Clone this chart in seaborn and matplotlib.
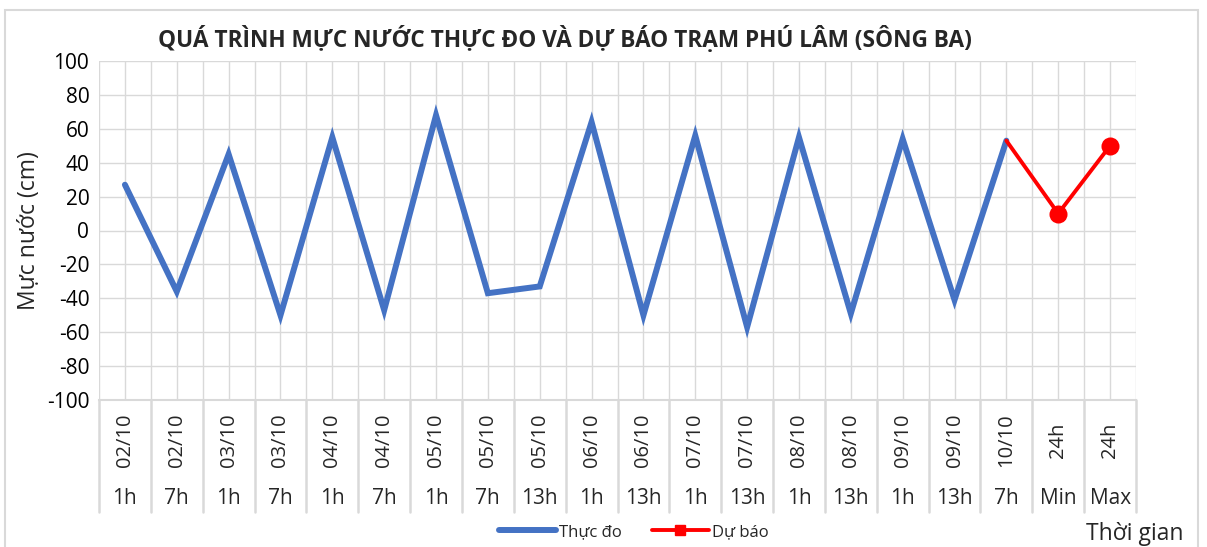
import numpy as np
import pandas as pd
import matplotlib.pyplot as plt
import matplotlib.transforms as mtransforms
from matplotlib.lines import Line2D
from matplotlib.patches import Rectangle
import seaborn as sns

# dữ liệu
dates = ["02/10", "02/10", "03/10", "03/10", "04/10", "04/10", "05/10", "05/10", "05/10",
         "06/10", "06/10", "07/10", "07/10", "08/10", "08/10", "09/10", "09/10", "10/10",
         "24h", "24h"]
hours = ["1h", "7h", "1h", "7h", "1h", "7h", "1h", "7h", "13h",
         "1h", "13h", "1h", "13h", "1h", "13h", "1h", "13h", "7h",
         "Min", "Max"]
thuc_do = [27, -36, 45, -50, 55, -47, 68, -37, -33,
           64, -50, 56, -57, 55, -49, 54, -41, 53]
du_bao = [53, 10, 50]

blue = "#4472C4"
red = "#FF0000"
grid_c = "#D9D9D9"

sns.set_theme(style="white")
plt.rcParams['font.family'] = ['Open Sans', 'DejaVu Sans']
plt.rcParams['axes.unicode_minus'] = False

n = len(dates)
df_obs = pd.DataFrame({"x": np.arange(len(thuc_do)), "y": thuc_do})
df_fc = pd.DataFrame({"x": np.arange(len(thuc_do) - 1, n), "y": du_bao})

fig = plt.figure(figsize=(12.07, 5.47), dpi=100)
ax = fig.add_axes([99 / 1207, 1 - 400 / 547, 1037 / 1207, 339 / 547])

# khung viền biểu đồ
fig.patches.append(Rectangle((5 / 1207, -0.01), 1193 / 1207, 1 - 10 / 547 + 0.01,
                             transform=fig.transFigure, fill=False,
                             edgecolor=grid_c, linewidth=1.5))

sns.lineplot(data=df_obs, x="x", y="y", ax=ax, color=blue, linewidth=4.3,
             solid_capstyle="round", solid_joinstyle="miter")
sns.lineplot(data=df_fc, x="x", y="y", ax=ax, color=red, linewidth=2.8,
             marker="o", markersize=13, markeredgewidth=0, markevery=[1, 2])

ax.set_xlim(-0.5, n - 0.5)
ax.set_ylim(-100, 100)
ax.set_yticks(np.arange(-100, 101, 20))
ax.set_xticks(np.arange(n))
ax.set_xticks(np.arange(n + 1) - 0.5, minor=True)
ax.grid(True, which="both", color=grid_c, linewidth=1.0)
ax.set_axisbelow(True)
ax.tick_params(axis="x", which="both", length=0, labelbottom=False)
ax.tick_params(axis="y", length=0, labelsize=15, pad=7, colors="#000000")
for s in ["top", "right", "left"]:
    ax.spines[s].set_visible(False)
ax.spines["bottom"].set_color(grid_c)
ax.spines["bottom"].set_linewidth(1.5)
ax.set_xlabel("")
ax.set_ylabel("Mực nước (cm)", fontsize=16.5, labelpad=4)

# nhãn trục hoành hai tầng
trans = mtransforms.blended_transform_factory(ax.transData, ax.transAxes)
for i in range(n + 1):
    ax.plot([i - 0.5, i - 0.5], [0, -0.33], transform=trans, color=grid_c,
            linewidth=1.8, clip_on=False)
for i in range(n):
    ax.text(i, -0.118, dates[i], transform=trans, rotation=90, ha="center",
            va="center", fontsize=14.5)
    ax.text(i, -0.29, hours[i], transform=trans, ha="center", va="center",
            fontsize=15)

fig.text(565 / 1207, 1 - 40 / 547, "QUÁ TRÌNH MỰC NƯỚC THỰC ĐO VÀ DỰ BÁO TRẠM PHÚ LÂM (SÔNG BA)",
         ha="center", va="center", fontsize=16.3, fontweight="bold")
fig.text(1135 / 1207, 1 - 534 / 547, "Thời gian", ha="center", va="center", fontsize=16.5)

handles = [Line2D([], [], color=blue, linewidth=4.3),
           Line2D([], [], color=red, linewidth=2.8, marker="s", markersize=7)]
fig.legend(handles, ["Thực đo", "Dự báo"], loc="center", bbox_to_anchor=(634 / 1207, 1 - 532 / 547),
           ncol=2, frameon=False, fontsize=12, handlelength=3.4, handletextpad=0.2,
           columnspacing=1.8)

fig.savefig("out.png", dpi=100)
